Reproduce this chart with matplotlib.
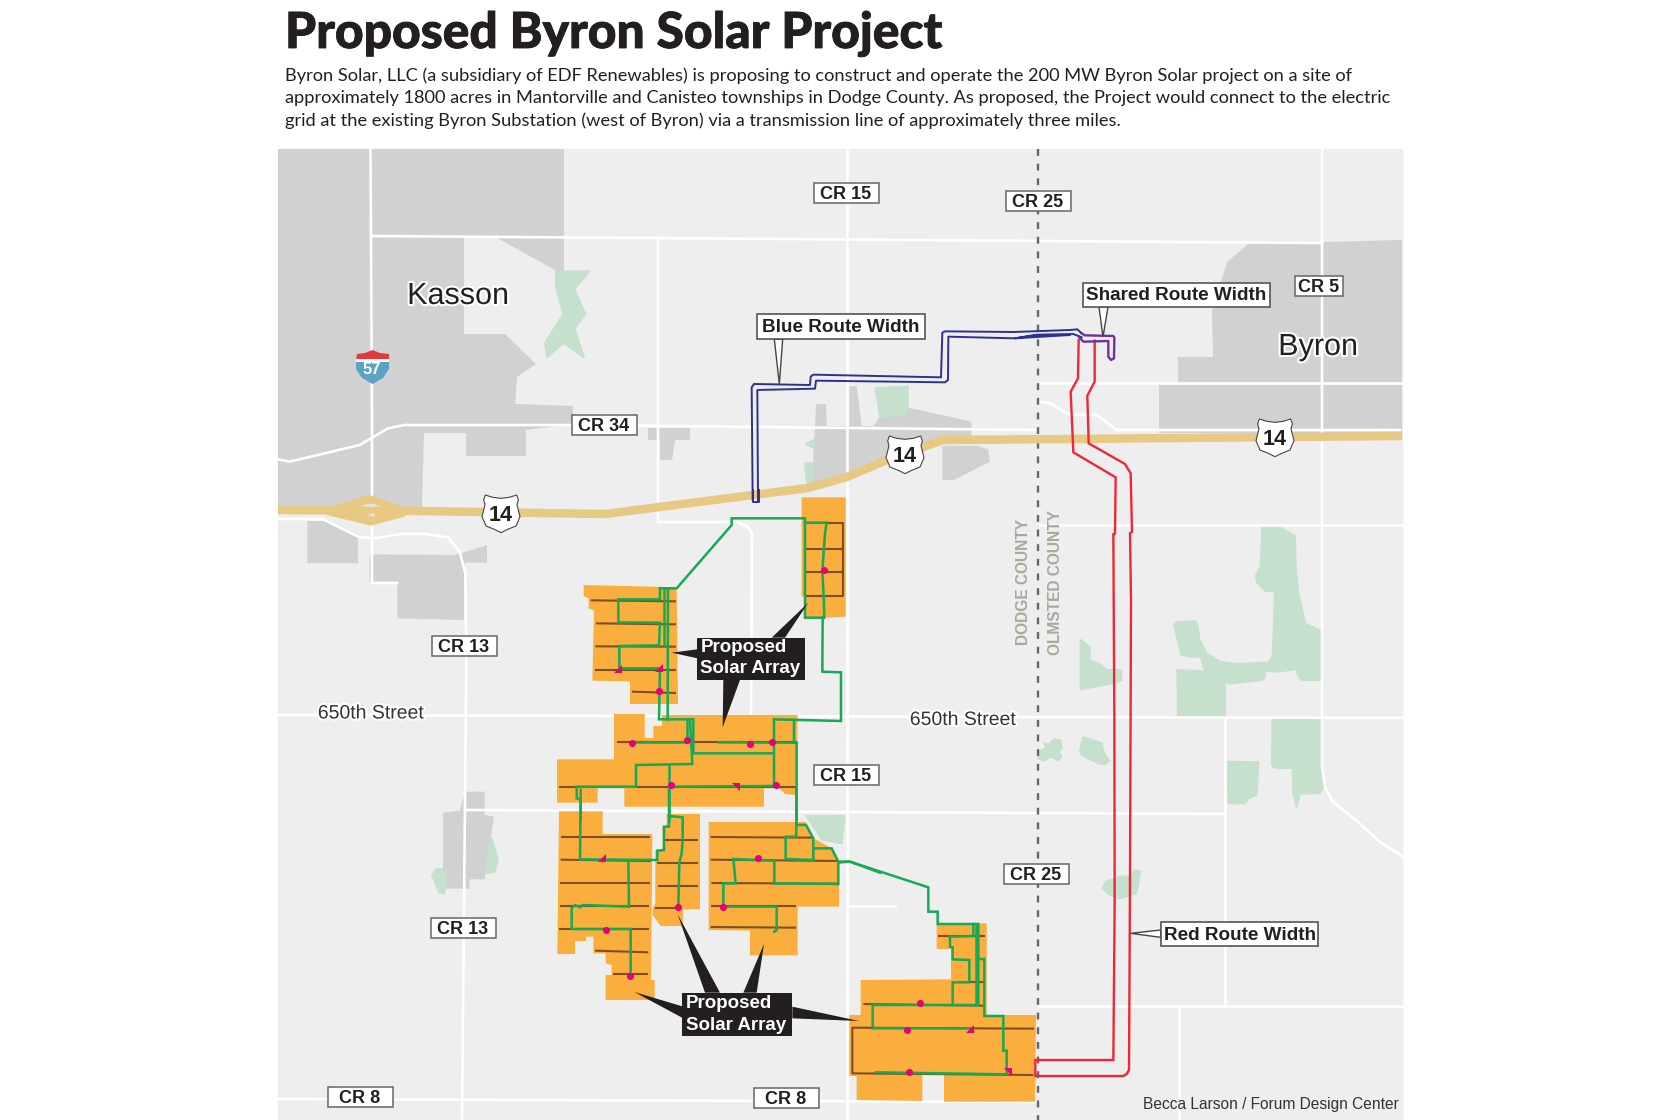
import matplotlib
matplotlib.use("Agg")
import matplotlib.pyplot as plt
import matplotlib.patheffects as pe


def crop(x0, y0, pts, sx=3.0, sy=3.0):
    return [(x0 + x / sx, y0 + y / sy) for x, y in pts]


TITLE = "Proposed Byron Solar Project"
SUBTITLE = [
    "Byron Solar, LLC (a subsidiary of EDF Renewables) is proposing to construct and operate the 200 MW Byron Solar project on a site of",
    "approximately 1800 acres in Mantorville and Canisteo townships in Dodge County. As proposed, the Project would connect to the electric",
    "grid at the existing Byron Substation (west of Byron) via a transmission line of approximately three miles.",
]
CREDIT = "Becca Larson / Forum Design Center"

# gray town areas
gray_areas = [
    [(278, 149), (564, 149), (564, 275), (497, 238), (464, 238), (464, 334), (505, 334), (536, 364), (517, 377),
     (515, 404), (573, 406), (573, 424), (526, 430), (526, 456), (466, 456), (466, 433), (424, 433), (422, 507), (278, 507)],
    crop(278, 420, [(88, 303), (135, 303), (240, 352), (240, 430), (88, 430)]),
    crop(278, 420, [(275, 403), (530, 405), (627, 376), (627, 428), (560, 428), (558, 600), (358, 595), (358, 488), (275, 488)]),
    crop(278, 660, [(495, 458), (545, 452), (557, 410), (565, 395), (620, 395), (620, 465), (648, 470), (620, 658),
                    (575, 658), (575, 686), (495, 686)]),
    [(648, 428), (690, 428), (690, 440), (675, 440), (672, 460), (660, 460), (660, 440), (648, 440)],
    crop(730, 300, [(258, 312), (288, 312), (290, 378), (358, 378), (358, 258), (380, 258), (395, 378), (430, 378), (450, 350),
                    (520, 345), (533, 323), (660, 350), (724, 365), (724, 410), (640, 410), (580, 430), (470, 475),
                    (350, 530), (245, 550), (255, 380)]),
    crop(730, 300, [(637, 437), (745, 437), (775, 450), (780, 485), (672, 540), (637, 540)]),
    [(1178, 383), (1178, 357), (1213, 357), (1212, 311), (1227, 262), (1248, 244), (1402, 240), (1402, 433), (1159, 433), (1159, 383)],
]

# parks
park_areas = [
    crop(270, 0, [(390, 760), (435, 760), (415, 810), (430, 880), (415, 920), (428, 1000), (400, 960), (378, 1000),
                  (375, 960), (400, 880), (390, 800)], 1.3635, 2.8),
    crop(278, 660, [(462, 645), (475, 628), (500, 628), (500, 700), (485, 700)]),
    crop(278, 660, [(640, 535), (660, 600), (650, 635), (622, 640)]),
    crop(730, 300, [(437, 264), (533, 260), (533, 320), (520, 345), (450, 350)]),
    crop(730, 300, [(228, 432), (250, 420), (250, 443)]),
    crop(730, 300, [(225, 490), (245, 490), (245, 550), (230, 550)]),
    crop(540, 790, [(800, 78), (914, 78), (905, 160), (845, 148)]),
    crop(1030, 500, [(697, 80), (745, 80), (795, 108), (797, 200), (805, 280), (825, 370), (870, 392), (872, 540), (815, 540),
                     (803, 525), (800, 507), (745, 515), (707, 512), (703, 535), (690, 541), (600, 550), (570, 545),
                     (525, 515), (512, 470), (480, 470), (455, 465), (432, 375), (440, 367), (495, 363), (503, 375),
                     (508, 420), (530, 460), (570, 485), (620, 492), (715, 488), (728, 470), (735, 275), (705, 272),
                     (680, 245), (678, 225), (692, 200)]),
    crop(1030, 500, [(442, 510), (525, 515), (585, 555), (585, 650), (444, 652)]),
    crop(1030, 500, [(727, 660), (873, 660), (873, 810), (880, 860), (870, 878), (810, 882), (800, 920), (790, 880),
                     (788, 804), (735, 804), (726, 796)]),
    crop(1030, 500, [(592, 785), (685, 787), (680, 885), (655, 895), (645, 910), (595, 910)]),
    crop(1030, 500, [(152, 420), (178, 440), (180, 482), (205, 490), (230, 510), (272, 510), (275, 540), (255, 548), (152, 568)]),
    crop(1030, 500, [(160, 712), (215, 730), (222, 760), (238, 782), (225, 792), (205, 790), (155, 765), (150, 750)]),
    crop(1030, 500, [(42, 730), (60, 732), (72, 718), (92, 722), (94, 745), (85, 755), (95, 770), (85, 782), (65, 770),
                     (40, 782), (25, 775), (25, 755), (50, 745)]),
    crop(1030, 500, [(218, 1165), (228, 1145), (270, 1130), (300, 1130), (315, 1110), (330, 1115), (325, 1150), (318, 1180),
                     (270, 1195), (240, 1185)]),
]

# white roads
roads = [
    [(370.5, 149), (372, 420), (372, 583), (397, 583)],
    [(372, 236), (1322, 243)],
    [(847, 149), (847, 1120)],
    [(1322, 149), (1322, 767), (1325, 787), (1333, 802), (1358, 822), (1380, 842), (1402, 856)],
    [(658, 238), (658, 522), (737, 522), (748, 527), (752, 533), (751, 717)],
    [(278, 715), (1402, 718)],
    [(466, 810), (1225, 814)],
    [(1225, 718), (1225, 1006)],
    [(1038, 1006), (1402, 1006)],
    [(1179, 1006), (1179, 1120)],
    [(278, 1099), (1038, 1102)],
    [(847, 906), (895, 906)],
    [(1040, 383), (1402, 383)],
    [(1040, 525), (1402, 525)],
    crop(278, 420, [(0, 118), (35, 125), (245, 75), (330, 25), (380, 15), (900, 15)]) + [(1037, 430)],
    crop(1000, 300, [(115, 305), (150, 310), (210, 345), (290, 345), (350, 390), (1200, 390)]),
    crop(278, 420, [(0, 297), (135, 297), (240, 350), (285, 355), (370, 342), (440, 342), (510, 352), (545, 395), (562, 460), (565, 720)]) + [(462, 1120)],
]

highway = [(278, 510), (420, 511), (540, 513), (605, 514), (753, 495), (808, 488), (847, 477), (887, 460), (943, 440), (1070, 439), (1402, 436)]
interchange = crop(278, 420, [(145, 262), (275, 225), (390, 265), (380, 290), (280, 317), (145, 285)])
interchange_gaps = [crop(278, 420, [(245, 258), (280, 250), (310, 258), (280, 262)]),
                    crop(278, 420, [(265, 285), (290, 278), (290, 290)])]

# solar arrays
solar_areas = [
    crop(540, 490, [(785, 22), (917, 22), (917, 380), (793, 385), (793, 320), (785, 320)]),
    crop(540, 490, [(131, 285), (410, 292), (414, 642), (270, 642), (270, 574), (157, 572), (162, 362), (146, 355), (146, 325), (131, 318)]),
    crop(540, 490, [(222, 672), (314, 672), (314, 744), (340, 744), (340, 708), (366, 708), (366, 675), (773, 675), (768, 915),
                    (735, 912), (718, 895), (672, 895), (672, 950), (253, 950), (253, 895), (173, 895), (173, 938), (51, 938),
                    (51, 808), (222, 808)]),
    crop(540, 790, [(57, 64), (188, 64), (188, 132), (337, 132), (333, 570), (344, 570), (344, 630), (197, 630), (197, 555),
                    (215, 555), (215, 525), (197, 520), (197, 490), (160, 490), (160, 440), (138, 440), (138, 453), (105, 453),
                    (105, 492), (52, 492)]),
    crop(540, 790, [(380, 72), (480, 72), (480, 358), (430, 358), (428, 408), (362, 408), (338, 375), (338, 355), (346, 340),
                    (346, 180), (368, 180), (368, 110), (380, 105)]),
    crop(540, 790, [(506, 96), (798, 96), (820, 145), (840, 155), (875, 175), (897, 215), (897, 350), (773, 350), (773, 496),
                    (630, 496), (630, 422), (506, 420)]),
    crop(840, 840, [(290, 252), (440, 250), (440, 525), (588, 525), (585, 785), (312, 785), (312, 705), (247, 705), (247, 783),
                    (50, 780), (50, 708), (28, 708), (28, 525), (62, 525), (62, 420), (333, 418), (333, 327), (290, 327)]),
]

brown_lines = [crop(540, 490, p) for p in [
    [(152, 331), (408, 334)], [(168, 400), (408, 403)], [(166, 469), (408, 470)], [(164, 539), (408, 539)], [(276, 605), (408, 609)],
    [(797, 100), (910, 100), (910, 317), (797, 317)], [(797, 178), (910, 178)], [(797, 247), (910, 247)],
    [(230, 757), (770, 757)], [(57, 891), (165, 891)], [(285, 891), (768, 891)],
]] + [crop(540, 790, p) for p in [
    [(63, 141), (330, 141)], [(62, 209), (333, 213)], [(60, 279), (329, 279)], [(60, 347), (327, 347)], [(58, 418), (327, 418)],
    [(165, 482), (325, 487)], [(220, 552), (325, 552)], [(375, 150), (474, 150)], [(352, 218), (474, 218)], [(354, 288), (474, 288)],
    [(344, 355), (414, 355)], [(512, 141), (818, 143)], [(512, 209), (893, 213)], [(514, 279), (893, 281)], [(512, 347), (768, 347)],
    [(512, 411), (768, 413)],
]] + [crop(840, 840, p) for p in [
    [(295, 288), (435, 288)], [(365, 425), (432, 425)], [(70, 492), (430, 497)],
    [(582, 566), (37, 563), (37, 700), (580, 705)],
]]

green_lines = [crop(540, 490, p) for p in [
    [(360, 295), (410, 295), (575, 105), (575, 85), (795, 85), (795, 383), (853, 383), (851, 320), (847, 245), (855, 130), (860, 98), (795, 98)],
    [(848, 383), (847, 545), (903, 547), (903, 693), (702, 688), (702, 888)],
    [(762, 690), (762, 758), (770, 760), (770, 990)],
    [(360, 295), (360, 328), (235, 328), (235, 397), (360, 398), (357, 466), (238, 468), (238, 535), (360, 535), (357, 688), (460, 688), (460, 790), (700, 790)],
    [(372, 295), (372, 466)],
    [(384, 295), (383, 688)],
    [(440, 690), (440, 757)],
    [(450, 690), (457, 822), (288, 825), (288, 890), (110, 890), (110, 925), (122, 928), (122, 990)],
    [(702, 888), (388, 890)],
    [(387, 825), (387, 990)],
    [(276, 757), (442, 757)],
    [(537, 757), (770, 758)],
]] + [crop(540, 790, p) for p in [
    [(387, 0), (387, 78), (428, 82), (428, 150), (425, 190), (418, 218), (415, 350)],
    [(387, 78), (387, 110), (372, 110), (372, 180), (352, 182), (352, 210), (120, 208), (122, 0)],
    [(265, 212), (267, 350), (128, 345), (120, 352), (105, 345), (95, 355), (95, 417), (272, 417), (272, 555)],
    [(769, 0), (769, 140), (737, 140), (737, 207), (820, 210), (820, 145), (798, 105), (769, 105)],
    [(820, 175), (875, 175), (895, 215), (895, 282), (703, 280), (703, 212), (580, 207), (587, 280), (550, 280), (550, 350), (710, 350), (710, 420), (703, 425)],
    [(895, 215), (930, 215), (1020, 248)],
]] + [crop(840, 840, p) for p in [
    [(0, 67), (30, 65), (265, 142), (265, 215), (293, 215), (293, 252), (415, 252), (415, 495), (98, 495), (98, 565), (385, 565)],
    [(400, 252), (400, 288), (330, 290), (330, 320), (338, 322), (338, 358), (388, 360), (388, 427), (338, 427), (338, 495)],
    [(408, 252), (408, 495)],
    [(415, 357), (433, 357), (433, 528), (490, 528), (490, 632), (500, 632), (500, 703), (108, 697)],
]]

pink_dots = crop(540, 490, [(851, 239), (357, 604), (276, 758), (442, 751), (631, 763), (695, 755), (393, 886), (707, 886)]) + \
    crop(540, 790, [(653, 203), (413, 351), (548, 351), (199, 420), (270, 557)]) + \
    crop(840, 840, [(239, 490), (202, 570), (207, 695)])
pink_tris_up = crop(540, 490, [(235, 537), (358, 535)]) + crop(540, 790, [(187, 205)]) + crop(840, 840, [(390, 566)])
pink_tris_down = crop(540, 490, [(587, 892)]) + crop(840, 840, [(505, 697)])

# transmission routes
blue_top = crop(730, 300, [(68, 600), (65, 262), (72, 252), (240, 255), (242, 230), (250, 224), (633, 232), (637, 98), (645, 94), (850, 96), (1020, 90)]) + \
    crop(1000, 300, [(232, 88), (245, 100)])
blue_bottom = crop(730, 300, [(84, 600), (82, 270), (255, 266), (258, 242), (645, 247), (654, 240), (655, 110), (855, 115), (925, 105), (1020, 105)]) + \
    crop(1000, 300, [(45, 115), (110, 104), (220, 102), (245, 112)])
blue_end = crop(540, 490, [(640, 0), (640, 37), (658, 37), (658, 0)])
purple_route = crop(1000, 300, [(245, 100), (255, 106), (340, 108), (343, 112), (342, 175), (333, 180), (325, 170), (325, 123), (250, 125), (238, 112)])
red_left = crop(1000, 300, [(236, 120), (234, 235), (212, 275), (220, 457), (347, 532), (345, 700), (342, 703)]) + \
    crop(1030, 500, [(250, 103), (253, 660), (254, 1200)]) + \
    crop(1030, 880, [(250, 540), (16, 540), (16, 588), (280, 588), (290, 582), (297, 570), (300, 0)])
red_right = crop(1000, 300, [(284, 122), (284, 245), (262, 287), (266, 430), (375, 492), (392, 520), (396, 695), (390, 700), (393, 900)]) + \
    crop(1030, 880, [(300, 0)])

# label boxes: text, center x, center y, width
cr_labels = ["CR 15", "CR 25", "CR 5", "CR 34", "CR 13", "CR 15", "CR 13", "CR 8", "CR 8", "CR 25"]
cr_x = [846, 1038, 1319, 604, 464, 846, 463, 360, 786, 1036]
cr_y = [193, 201, 286, 425, 646, 775, 928, 1097, 1098, 874]
cr_w = [65, 65, 48, 65, 65, 65, 65, 65, 65, 65]

shield_x = [501, 905, 1275]
shield_y = [514, 455, 438]
shield_half = [(0, -47), (25, -50), (47, -57), (52, -42), (48, -28), (57, 8), (45, 36), (20, 46), (0, 56)]
shield_shape = crop(0, 0, shield_half + [(-x, y) for x, y in shield_half[-2:0:-1]])

fig = plt.figure(figsize=(16.8, 11.2), dpi=100, facecolor="white")
ax = fig.add_axes([0, 0, 1, 1])
ax.set_xlim(0, 1680)
ax.set_ylim(1120, 0)
ax.axis("off")

ax.fill([278, 1402, 1402, 278], [149, 149, 1120, 1120], color="#eeeeee", zorder=0)
for poly in gray_areas:
    ax.fill(*zip(*poly), color="#d1d1d2", lw=0, zorder=1)
for poly in park_areas:
    ax.fill(*zip(*poly), facecolor="#c5e1cd", edgecolor="#c5e1cd", lw=1.5, joinstyle="round", zorder=1.5)
for r in roads:
    ax.plot(*zip(*r), color="white", lw=1.9, zorder=2)
ax.plot([1038, 1038], [149, 1120], color="#666666", lw=1.7, dashes=(2.9, 3.3), zorder=2.2)
ax.plot(*zip(*highway), color="#e7c983", lw=6.1, solid_capstyle="butt", zorder=3)
ax.fill(*zip(*interchange), color="#e7c983", lw=0, zorder=3)
for poly in interchange_gaps:
    ax.fill(*zip(*poly), color="#e4e2da", lw=0, zorder=3.1)

for poly in solar_areas:
    ax.fill(*zip(*poly), color="#f9ae3d", lw=0, zorder=4)
for l in brown_lines:
    ax.plot(*zip(*l), color="#7d4f23", lw=1.5, solid_capstyle="butt", zorder=5)
for l in green_lines:
    ax.plot(*zip(*l), color="#17a955", lw=1.8, solid_joinstyle="miter", zorder=6)
ax.scatter(*zip(*pink_dots), s=26, color="#e6007e", lw=0, zorder=7)
ax.scatter(*zip(*pink_tris_up), s=28, marker=[(-1, -1), (1, -1), (1, 1)], color="#e6007e", lw=0, zorder=7)
ax.scatter(*zip(*pink_tris_down), s=28, marker=[(-1, 1), (1, 1), (1, -1)], color="#e6007e", lw=0, zorder=7)

for route in [blue_top, blue_bottom, blue_end]:
    ax.plot(*zip(*route), color="#2e3192", lw=1.4, zorder=8)
ax.plot(*zip(*red_left), color="#ee2737", lw=1.7, solid_joinstyle="miter", zorder=8)
ax.plot(*zip(*red_right), color="#ee2737", lw=1.7, solid_joinstyle="miter", zorder=8)
ax.plot(*zip(*purple_route), color="#6a33a0", lw=1.7, zorder=8.5)

# city and street names
halo = [pe.withStroke(linewidth=3, foreground="white")]
ax.text(458, 296, "Kasson", fontsize=22, family="Liberation Sans", color="#231f20", ha="center", va="center", path_effects=halo, zorder=9)
ax.text(1318, 347, "Byron", fontsize=22, family="Liberation Sans", color="#231f20", ha="center", va="center", path_effects=halo, zorder=9)
ax.text(371, 714, "650th Street", fontsize=14, family="Liberation Sans", color="#333333", ha="center", va="center", path_effects=halo, zorder=9)
ax.text(963, 720.5, "650th Street", fontsize=14, family="Liberation Sans", color="#333333", ha="center", va="center", path_effects=halo, zorder=9)
ax.text(1023, 582, "DODGE COUNTY", fontsize=11.2, family="Liberation Sans", fontweight="bold", color="#aaa89a", rotation=90, ha="center", va="center", zorder=9)
ax.text(1055, 583, "OLMSTED COUNTY", fontsize=11.2, family="Liberation Sans", fontweight="bold", color="#aaa89a", rotation=90, ha="center", va="center", zorder=9)

# road labels
for t, x, y, w in zip(cr_labels, cr_x, cr_y, cr_w):
    ax.fill([x - w / 2, x + w / 2, x + w / 2, x - w / 2], [y - 10, y - 10, y + 10, y + 10], facecolor="white", edgecolor="#666666", lw=1.1, zorder=10)
    ax.text(x, y + 1.5, t, fontsize=13, family="Liberation Sans", fontweight="bold", color="#231f20", ha="center", va="center", zorder=11)

# US 14 shields
for x, y in zip(shield_x, shield_y):
    ax.fill([x + p[0] for p in shield_shape], [y + p[1] for p in shield_shape], facecolor="white", edgecolor="#444444", lw=0.8, zorder=10)
    ax.text(x, y + 1.5, "14", fontsize=15.5, family="Liberation Sans", fontweight="bold", color="#231f20", ha="center", va="center", zorder=11)

# I-57 shield
ax.fill([357, 365, 372.5, 380, 389, 389, 356], [354, 353, 350, 353, 354, 360, 360], color="#e0393e", lw=0, zorder=10)
ax.fill([356, 389, 389, 383, 372.5, 362, 356], [361, 361, 369, 378, 384, 378, 369], color="#5ba3c5", lw=0, zorder=10)
ax.fill([356, 389, 389, 356], [359, 359, 362, 362], color="white", lw=0, zorder=10)
ax.text(372, 369, "57", fontsize=12, family="Liberation Sans", fontweight="bold", color="white", ha="center", va="center", zorder=11)


def callout(box, pointer, text):
    x0, y0, x1, y1 = box
    ax.fill(*zip(*pointer), facecolor="white", edgecolor="#444444", lw=1.0, zorder=10)
    ax.fill([x0, x1, x1, x0], [y0, y0, y1, y1], facecolor="white", edgecolor="#555555", lw=1.2, zorder=10.5)
    ax.text((x0 + x1) / 2, (y0 + y1) / 2 + 1, text, fontsize=13.6, family="Liberation Sans", fontweight="bold", color="#231f20",
            ha="center", va="center", zorder=11)


callout((757, 314, 925, 339), crop(730, 300, [(133, 118), (148, 252), (158, 118)]), "Blue Route Width")
callout((1083, 283, 1270, 307), [(1099, 307), (1103, 337), (1108, 307)], "Shared Route Width")
callout((1161, 922, 1318, 946), crop(1030, 880, [(392, 150), (302, 160), (392, 172)]), "Red Route Width")

# black solar array callouts
black_boxes = [crop(540, 490, [(472, 443), (795, 443), (795, 570), (472, 570)]),
               crop(540, 790, [(427, 608), (757, 608), (757, 737), (427, 737)])]
black_points = [crop(540, 490, p) for p in [[(395, 488), (472, 478), (472, 505)], [(695, 443), (805, 338), (735, 443)], [(550, 570), (548, 712), (600, 570)]]] + \
    [crop(540, 790, p) for p in [[(283, 606), (430, 650), (430, 685)], [(413, 373), (495, 608), (540, 608)], [(672, 462), (610, 608), (650, 608)], [(957, 693), (757, 650), (757, 685)]]]
for poly in black_boxes + black_points:
    ax.fill(*zip(*poly), color="#231f20", lw=0, zorder=10)
for x, y1, y2 in [(700.5, 648, 668.5), (686, 1004, 1025)]:
    ax.text(x, y1, "Proposed", fontsize=13.5, family="Liberation Sans", fontweight="bold", color="white", va="center", zorder=11)
    ax.text(x, y2, "Solar Array", fontsize=13.5, family="Liberation Sans", fontweight="bold", color="white", va="center", zorder=11)

ax.text(1399, 1105, CREDIT, fontsize=11.2, family="Liberation Sans", color="#333333", ha="right", va="center", zorder=11)

ax.text(285, 48, TITLE, fontsize=35.8, family="Lato", fontweight="black", color="#231f20", va="baseline",
        path_effects=[pe.withStroke(linewidth=0.6, foreground="#231f20")])
for y, line in zip([76, 98.5, 121], SUBTITLE):
    ax.text(285, y, line, fontsize=13.15, family="Lato", color="#231f20", va="center")

fig.savefig("out.png", dpi=100)
